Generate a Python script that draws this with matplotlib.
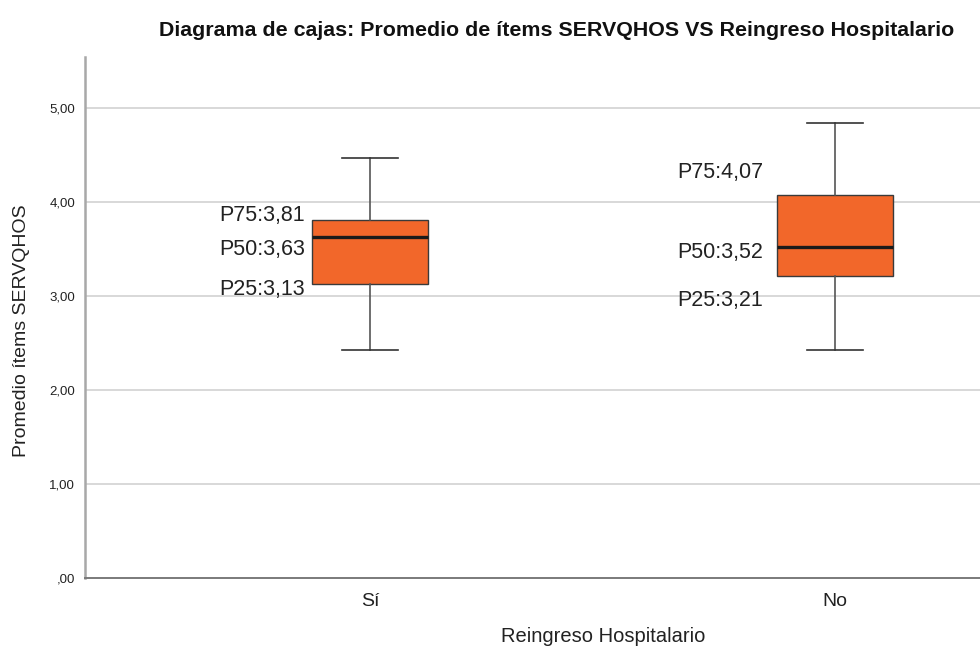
import matplotlib
matplotlib.use("Agg")
import matplotlib.pyplot as plt

plt.rcParams['font.family'] = ['Liberation Sans', 'DejaVu Sans']

categories = ["Sí", "No"]
whisker_low = [2.42, 2.42]
p25 = [3.13, 3.21]
p50 = [3.63, 3.52]
p75 = [3.81, 4.07]
whisker_high = [4.47, 4.84]
y_ticks = [0, 1, 2, 3, 4, 5]
y_tick_labels = [",00", "1,00", "2,00", "3,00", "4,00", "5,00"]

fig = plt.figure(figsize=(9.8, 6.5), dpi=100)
ax = fig.add_axes([85 / 980, 1 - 578 / 650, 895 / 980, (578 - 57) / 650])

stats = []
for i, cat in enumerate(categories):
    stats.append(dict(label=cat, whislo=whisker_low[i], q1=p25[i], med=p50[i],
                      q3=p75[i], whishi=whisker_high[i], fliers=[]))

positions = [1, 2]
ax.bxp(stats, positions=positions, widths=0.25, patch_artist=True, showfliers=False,
       boxprops=dict(facecolor="#F2672A", edgecolor="#3a3a3a", linewidth=1.0),
       medianprops=dict(color="#1a1a1a", linewidth=2.4),
       whiskerprops=dict(color="#555555", linewidth=1.2),
       capprops=dict(color="#333333", linewidth=1.2),
       capwidths=0.122, zorder=3)

ax.set_xlim(0.387, 2.312)
ax.set_ylim(0, 5.54)
ax.set_yticks(y_ticks)
ax.set_yticklabels(y_tick_labels, fontsize=9.5, color="#222222")
ax.set_xticks(positions)
ax.set_xticklabels(categories, fontsize=14, color="#222222")
ax.tick_params(axis="y", length=0, pad=7)
ax.tick_params(axis="x", length=0, pad=11)

for y in y_ticks[1:]:
    ax.axhline(y, color="#d2d2d2", linewidth=1.2, zorder=1)

for side in ["top", "right"]:
    ax.spines[side].set_visible(False)
ax.spines["left"].set_color("#a8a8a8")
ax.spines["left"].set_linewidth(1.8)
ax.spines["bottom"].set_color("#7a7a7a")
ax.spines["bottom"].set_linewidth(1.4)

ax.set_ylabel("Promedio ítems SERVQHOS", fontsize=14, color="#222222")
ax.yaxis.set_label_coords(-55 / 895, 0.474)
ax.set_xlabel("Reingreso Hospitalario", fontsize=14.5, color="#222222")
ax.xaxis.set_label_coords((603 - 85) / 895, -59 / 521)
ax.xaxis.label.set_va("center")

# Percentile labels beside each box
label_x = [0.86, 1.845]
label_y = [[3.85, 3.49, 3.07], [4.31, 3.46, 2.95]]
for i in range(len(categories)):
    texts = [f"P75:{p75[i]:.2f}", f"P50:{p50[i]:.2f}", f"P25:{p25[i]:.2f}"]
    for t, y in zip(texts, label_y[i]):
        ax.text(label_x[i], y, t.replace(".", ","), ha="right", va="center",
                fontsize=15.5, color="#222222")

fig.text(557 / 980, 1 - 30 / 650,
         "Diagrama de cajas: Promedio de ítems SERVQHOS VS Reingreso Hospitalario",
         ha="center", va="center", fontsize=15.4, fontweight="bold", color="#111111")

fig.savefig("out.png", dpi=100, facecolor="white")
